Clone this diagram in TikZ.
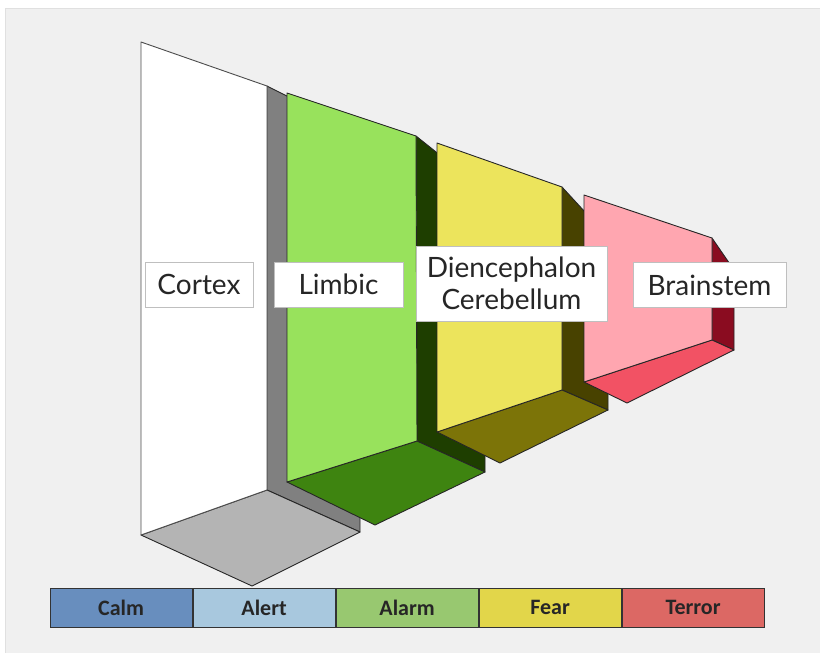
\documentclass[tikz,border=0pt]{standalone}
\usepackage{fontspec}
\setmainfont{Lato}
\newfontfamily\barfont{Carlito}
\usetikzlibrary{positioning}

\definecolor{slidebg}{RGB}{240,240,240}
\definecolor{cortexside}{RGB}{128,128,128}
\definecolor{cortexbase}{RGB}{180,180,180}
\definecolor{limbicfront}{RGB}{152,226,92}
\definecolor{limbicside}{RGB}{30,62,0}
\definecolor{limbicbase}{RGB}{62,132,16}
\definecolor{dienfront}{RGB}{236,228,92}
\definecolor{dienside}{RGB}{72,66,0}
\definecolor{dienbase}{RGB}{124,116,8}
\definecolor{stemfront}{RGB}{255,166,176}
\definecolor{stemside}{RGB}{138,12,32}
\definecolor{stembase}{RGB}{242,82,100}
\definecolor{calmc}{RGB}{104,142,190}
\definecolor{alertc}{RGB}{168,200,222}
\definecolor{alarmc}{RGB}{152,200,112}
\definecolor{fearc}{RGB}{226,214,74}
\definecolor{terrorc}{RGB}{220,104,100}

\begin{document}
\begin{tikzpicture}[x=1pt,y=-1pt,
    face/.style={draw=black!85,line width=0.9pt,line join=round},
    tag/.style={draw=black!25,fill=white,line width=0.6pt,minimum height=45pt,
        inner sep=2pt,align=center,font=\fontsize{28}{32}\selectfont,text=black!85},
    cell/.style={draw=black!80,line width=0.8pt,minimum width=142.2pt,minimum height=39pt,
        inner sep=0pt,font=\barfont\bfseries\fontsize{22}{24}\selectfont,text=black!85}]
    \useasboundingbox (0,0) rectangle (820,653);
    % slide
    \fill[white] (0,0) rectangle (820,653);
    \fill[slidebg] (5,8) rectangle (820,653);
    \draw[black!12] (5,653) |- (820,8);

    % cortex
    \draw[face,fill=cortexside] (267,86) -- (360,133) -- (360,532) -- (267,490) -- cycle;
    \draw[face,fill=cortexbase] (141,535) -- (267,490) -- (360,532) -- (252,586) -- cycle;
    \draw[face,draw=black!70,fill=white] (141,42) -- (267,86) -- (267,490) -- (141,535) -- cycle;
    % limbic
    \draw[face,fill=limbicside] (416,136) -- (485,191) -- (485,472) -- (417,441) -- cycle;
    \draw[face,fill=limbicbase] (287,482) -- (417,441) -- (485,472) -- (375,525) -- cycle;
    \draw[face,fill=limbicfront] (287,93) -- (416,136) -- (417,441) -- (287,482) -- cycle;
    % diencephalon / cerebellum
    \draw[face,fill=dienside] (562,187) -- (608,237) -- (608,410) -- (562,390) -- cycle;
    \draw[face,fill=dienbase] (437,432) -- (562,390) -- (608,410) -- (500,463) -- cycle;
    \draw[face,fill=dienfront] (437,143) -- (562,187) -- (562,390) -- (437,432) -- cycle;
    % brainstem
    \draw[face,fill=stemside] (712,238) -- (734,270) -- (734,350) -- (712,340) -- cycle;
    \draw[face,fill=stembase] (584,382) -- (712,340) -- (734,350) -- (627,403) -- cycle;
    \draw[face,fill=stemfront] (584,195) -- (712,238) -- (712,340) -- (584,382) -- cycle;

    % labels
    \node[tag,minimum width=108pt] (cortex) at (199,284.5) {Cortex};
    \node[tag,minimum width=129pt] (limbic) at (338.5,284.5) {Limbic};
    \node[tag,minimum width=191pt,minimum height=75pt] (dien) at (511.5,283.5) {Diencephalon\\Cerebellum};
    \node[tag,minimum width=153pt] (stem) at (709.5,285) {Brainstem};

    % arousal scale
    \node[cell,fill=calmc] (calm) at (121.1,607.5) {Calm};
    \node[cell,fill=alertc,right=0pt of calm] (alert) {Alert};
    \node[cell,fill=alarmc,right=0pt of alert] (alarm) {Alarm};
    \node[cell,fill=fearc,right=0pt of alarm] (fear) {Fear};
    \node[cell,fill=terrorc,right=0pt of fear] (terror) {Terror};
\end{tikzpicture}
\end{document}
